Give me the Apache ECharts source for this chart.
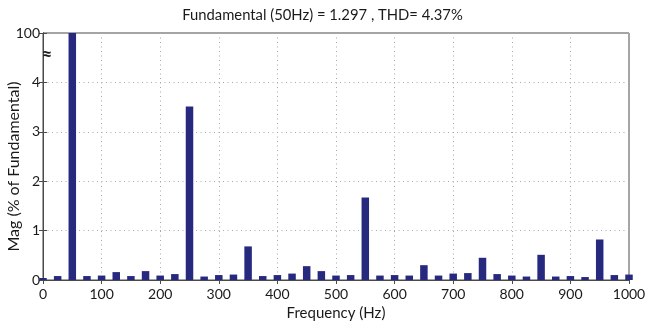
<!DOCTYPE html>
<html>
<head>
<meta charset="utf-8">
<script src="https://cdn.jsdelivr.net/npm/echarts@6/dist/echarts.min.js"></script>
<style>
  html, body { margin: 0; padding: 0; background: #fff; }
  #chart { width: 645px; height: 326px; }
</style>
</head>
<body>
<div id="chart"></div>
<script>
// Harmonic spectrum, 25 Hz bins, magnitude in % of the 50 Hz fundamental
const frequencies = [0, 25, 50, 75, 100, 125, 150, 175, 200, 225, 250, 275, 300, 325, 350, 375, 400,
  425, 450, 475, 500, 525, 550, 575, 600, 625, 650, 675, 700, 725, 750, 775, 800, 825, 850, 875, 900,
  925, 950, 975, 1000];
const magnitudes = [0.04, 0.08, 100, 0.08, 0.09, 0.16, 0.08, 0.18, 0.09, 0.12, 3.51, 0.07, 0.10, 0.11,
  0.68, 0.08, 0.10, 0.13, 0.28, 0.18, 0.09, 0.10, 1.67, 0.09, 0.10, 0.09, 0.30, 0.09, 0.13, 0.14,
  0.45, 0.12, 0.09, 0.07, 0.51, 0.07, 0.08, 0.06, 0.82, 0.10, 0.11];
const yTicks = ['0', '1', '2', '3', '4', '100'];   // top tick is the broken-axis 100 %
const titleText = 'Fundamental (50Hz) = 1.297 , THD= 4.37%';

const FONT = 'Lato, "Open Sans", sans-serif';
const FS = 14;
const FS_NAME = 15;
const TEXT = '#1a1a1a';
const FRAME = '#4a4a4a';
const BAR = '#27297f';

const chart = echarts.init(document.getElementById('chart'), null, { renderer: 'canvas' });

const dotted = { show: true, lineStyle: { color: '#a8a8a8', type: [1, 3.5], width: 1 } };

chart.setOption({
  animation: false,
  backgroundColor: '#fff',
  title: {
    text: titleText, left: 'center', top: 3,
    textStyle: { fontFamily: FONT, fontSize: 14.8, fontWeight: 'normal', color: TEXT }
  },
  grid: { left: 43, right: 16, top: 33, bottom: 46, containLabel: false, outerBoundsMode: 'none',
    show: true, borderColor: FRAME, borderWidth: 1, backgroundColor: 'transparent' },
  xAxis: [{
    type: 'value', min: 0, max: 1000, interval: 100,
    name: 'Frequency (Hz)', nameLocation: 'middle', nameGap: 26, nameMoveOverlap: false,
    nameTextStyle: { fontFamily: FONT, fontSize: FS_NAME, color: TEXT },
    axisLine: { show: true, lineStyle: { color: FRAME } },
    axisTick: { show: true, inside: true, length: 4, lineStyle: { color: FRAME } },
    axisLabel: { fontFamily: FONT, fontSize: FS, color: TEXT, margin: 7, formatter: v => String(v) },
    splitLine: dotted
  }, {
    type: 'value', min: 0, max: 1000, interval: 100, position: 'top',
    axisLine: { show: true, lineStyle: { color: FRAME } },
    axisTick: { show: true, inside: true, length: 4, lineStyle: { color: FRAME } },
    axisLabel: { show: false }, splitLine: { show: false }
  }],
  yAxis: [{
    type: 'value', min: 0, max: 5, interval: 1,
    name: 'Mag (% of Fundamental)', nameLocation: 'middle', nameGap: 21, nameMoveOverlap: false,
    nameTextStyle: { fontFamily: FONT, fontSize: 16, color: TEXT, padding: [0, 20, 0, 0] },
    axisLine: { show: true, lineStyle: { color: FRAME } },
    axisTick: { show: true, inside: true, length: 4, lineStyle: { color: FRAME } },
    axisLabel: { fontFamily: FONT, fontSize: FS, color: TEXT, margin: 3,
      formatter: v => yTicks[Math.round(v)] },
    splitLine: dotted
  }, {
    type: 'value', min: 0, max: 5, interval: 1, position: 'right',
    axisLine: { show: true, lineStyle: { color: FRAME } },
    axisTick: { show: true, inside: true, length: 4, lineStyle: { color: FRAME } },
    axisLabel: { show: false }, splitLine: { show: false }
  }],
  series: [{
    type: 'bar',
    xAxisIndex: 0, yAxisIndex: 0,
    barWidth: 7.5,
    clip: true,
    itemStyle: { color: BAR },
    data: frequencies.map((f, i) => [f, magnitudes[i]])
  }]
});

// axis-break marker between the 4 % tick and the 100 % tick
const breakPos = chart.convertToPixel({ xAxisIndex: 0, yAxisIndex: 0 }, [0, 4.55]);
chart.setOption({
  graphic: [{
    type: 'text', x: breakPos[0] + 4, y: breakPos[1], z: 100,
    style: { text: '≈', fontFamily: FONT, fontSize: 18, fontWeight: 'bold', fill: TEXT,
      align: 'center', verticalAlign: 'middle' }
  }]
});
</script>
</body>
</html>
